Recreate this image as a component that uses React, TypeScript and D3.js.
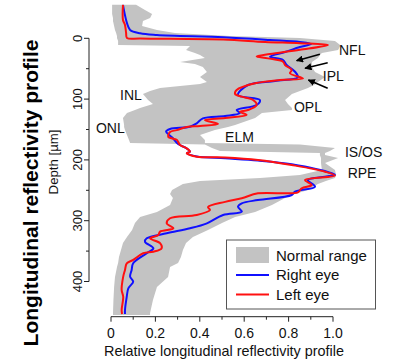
import * as d3 from 'd3'
import { useEffect, useRef } from 'react'

// depth in µm, value = relative longitudinal reflectivity
const bandDepth = [-55, -46.6, -40, -33.4, -28.5, -20.2, -13.7, -8.7, -3.8, -0.5, 4.4, 11, 12.7, 19.2, 24.2, 27.5, 32.4, 39, 42.3, 47.2, 55.4, 63.7, 71.9, 75.2, 81.7, 86.7, 91.6, 101.5, 108.1, 114.6, 117.9, 122.9, 131.1, 142.6, 145.9, 150.8, 159, 167.3, 172.2, 174.7, 180.4, 185.4, 188.7, 192, 196.9, 205.1, 216.6, 224.8, 229.8, 234.7, 239.6, 249.5, 256.1, 262.7, 274.2, 285.7, 293.9, 303.8, 315.3, 326.8, 336.7, 348.2, 359.7, 369.6, 376.1, 392.6, 409, 430.4, 451.8, 455]
const bandMin = [0.005, 0.005, 0.005, 0.009, 0.009, 0.014, 0.018, 0.023, 0.027, 0.027, 0.032, 0.032, 0.356, 0.338, 0.378, 0.401, 0.423, 0.311, 0.378, 0.414, 0.432, 0.401, 0.432, 0.401, 0.221, 0.176, 0.144, 0.167, 0.189, 0.131, 0.108, 0.072, 0.054, 0.059, 0.059, 0.063, 0.072, 0.081, 0.086, 0.423, 0.455, 0.491, 0.941, 0.941, 0.946, 0.946, 0.95, 0.851, 0.671, 0.401, 0.324, 0.275, 0.266, 0.279, 0.266, 0.207, 0.131, 0.108, 0.095, 0.072, 0.054, 0.045, 0.036, 0.032, 0.027, 0.018, 0.014, 0.011, 0.009, 0.009]
const bandMax = [0.113, 0.153, 0.185, 0.176, 0.144, 0.14, 0.207, 0.288, 0.536, 0.851, 1.009, 1.032, 1.032, 1.023, 0.95, 0.941, 0.932, 0.905, 0.905, 0.905, 0.919, 0.964, 0.932, 0.923, 0.887, 0.851, 0.815, 0.784, 0.797, 0.815, 0.815, 0.68, 0.649, 0.559, 0.527, 0.468, 0.401, 0.423, 0.423, 0.851, 1.009, 0.986, 0.964, 0.964, 1.023, 0.964, 1.009, 1.014, 1.009, 0.968, 0.932, 0.887, 0.829, 0.784, 0.725, 0.649, 0.559, 0.5, 0.437, 0.369, 0.338, 0.324, 0.315, 0.302, 0.266, 0.257, 0.207, 0.189, 0.176, 0.176]

const rightDepth = [-55, -38, -25, -13.7, -8.2, -5.4, -1.6, 2.8, 6.1, 9.4, 14.3, 22.5, 30.3, 35.7, 44, 55, 64.1, 70.2, 76.8, 93.3, 101.5, 109.7, 118, 122.9, 127.8, 131.6, 139.8, 145.4, 149.2, 153.6, 160.2, 164.5, 173.9, 180.4, 186.5, 189.1, 194.4, 197.4, 201, 207.2, 222, 224.8, 233, 244, 252.3, 257.7, 266, 271.4, 277, 285.2, 290.6, 304.3, 312.5, 320.7, 329, 334.5, 345.4, 353.6, 370, 381, 392, 400.3, 411.2, 425, 447, 453.5]
const rightEye = [0.054, 0.063, 0.072, 0.086, 0.131, 0.207, 0.505, 0.716, 0.851, 0.901, 0.851, 0.784, 0.716, 0.775, 0.791, 0.829, 0.842, 0.739, 0.617, 0.572, 0.671, 0.656, 0.566, 0.581, 0.514, 0.414, 0.386, 0.356, 0.266, 0.248, 0.266, 0.279, 0.302, 0.338, 0.356, 0.342, 0.387, 0.514, 0.662, 0.814, 0.994, 1.009, 0.887, 0.919, 0.829, 0.814, 0.662, 0.589, 0.572, 0.589, 0.505, 0.432, 0.356, 0.251, 0.161, 0.153, 0.191, 0.161, 0.1, 0.093, 0.086, 0.1, 0.078, 0.071, 0.063, 0.063]

const leftDepth = [-55, -30, -22, -9, -0.5, 0.3, 2, 6, 8, 11, 19, 26, 30, 33, 38.5, 44, 52, 57.5, 66, 68.6, 74, 85, 91.6, 96, 101.5, 109.7, 118, 120.7, 126, 131, 134.4, 141, 144.2, 146, 151, 154, 162, 167, 175.5, 181, 186.5, 189, 194.7, 196, 200, 208.4, 219.4, 226, 233, 241.3, 246.7, 253.3, 255, 263, 269, 277.5, 282.4, 290.6, 296, 304.3, 312.5, 318, 323.5, 329, 337, 345.4, 351, 353.6, 364.6, 370, 381, 392, 414, 425, 447, 453.5]
const leftEye = [0.054, 0.054, 0.063, 0.068, 0.072, 0.131, 0.505, 0.694, 0.851, 0.977, 0.851, 0.716, 0.656, 0.707, 0.775, 0.784, 0.814, 0.806, 0.865, 0.761, 0.649, 0.566, 0.559, 0.589, 0.64, 0.656, 0.617, 0.581, 0.611, 0.514, 0.423, 0.482, 0.401, 0.341, 0.296, 0.266, 0.258, 0.296, 0.311, 0.341, 0.356, 0.341, 0.386, 0.514, 0.662, 0.814, 0.964, 1.009, 0.874, 0.904, 0.859, 0.842, 0.662, 0.589, 0.514, 0.437, 0.446, 0.386, 0.266, 0.251, 0.281, 0.221, 0.213, 0.176, 0.221, 0.228, 0.191, 0.145, 0.1, 0.071, 0.063, 0.055, 0.048, 0.055, 0.048, 0.05]

const depthTicks = [0, 100, 200, 300, 400]
const depthMinor = [50, 150, 250, 350]
const valueTicks = [0, 0.2, 0.4, 0.6, 0.8, 1.0]
const valueMinor = [0.1, 0.3, 0.5, 0.7, 0.9]

const layerNames = ['NFL', 'IPL', 'OPL', 'ELM', 'IS/OS', 'RPE', 'INL', 'ONL']
const layerValue = [1.027, 0.954, 0.824, 0.514, 1.054, 1.066, 0.041, -0.068]
const layerDepth = [19.2, 62.5, 113.5, 161.8, 186.5, 222, 93.3, 148]

// arrows: [fromValue, fromDepth, toValue, toDepth]
const arrows = [
    [0.941, 26.3, 0.836, 36.8],
    [0.976, 40.1, 0.874, 49.3],
    [0.976, 82.2, 0.889, 68.6],
]

const FONT = 'Arial, "Liberation Sans", Helvetica, sans-serif'

const drawChart = (el: SVGSVGElement) => {
    const svg = d3.select(el)
    svg.selectAll('*').remove()

    const x = d3.scaleLinear().domain([0, 1]).range([111, 333])
    const y = d3.scaleLinear().domain([0, 400]).range([38.3, 281.5])
    const axisX = 89
    const axisY = 316.7

    svg.append('defs').append('marker')
        .attr('id', 'arrowhead')
        .attr('viewBox', '0 0 10 10')
        .attr('refX', 9).attr('refY', 5)
        .attr('markerWidth', 4.5).attr('markerHeight', 4.5)
        .attr('orient', 'auto')
        .append('path').attr('d', 'M0,0 L10,5 L0,10 z').attr('fill', '#000')

    // normal range band
    const band = bandDepth.map((d, i) => [d, bandMin[i], bandMax[i]] as [number, number, number])
    const area = d3.area<[number, number, number]>()
        .y(d => y(d[0]))
        .x0(d => x(d[1]))
        .x1(d => x(d[2]))
    svg.append('path').datum(band).attr('fill', '#c3c3c3').attr('d', area)

    const line = d3.line<[number, number]>()
        .x(d => x(d[1]))
        .y(d => y(d[0]))
        .curve(d3.curveCatmullRom.alpha(0.5))

    svg.append('path')
        .datum(rightDepth.map((d, i) => [d, rightEye[i]] as [number, number]))
        .attr('fill', 'none').attr('stroke', '#1010ff').attr('stroke-width', 2)
        .attr('d', line)
    svg.append('path')
        .datum(leftDepth.map((d, i) => [d, leftEye[i]] as [number, number]))
        .attr('fill', 'none').attr('stroke', '#ff1010').attr('stroke-width', 2)
        .attr('d', line)

    // y axis
    const ya = svg.append('g').attr('transform', `translate(${axisX},0)`)
    ya.append('line').attr('y1', y(0)).attr('y2', y(400)).attr('stroke', '#222')
    ya.selectAll('.maj').data(depthTicks).enter().append('line')
        .attr('x1', -5).attr('x2', 0).attr('y1', d => y(d)).attr('y2', d => y(d)).attr('stroke', '#222')
    ya.selectAll('.min').data(depthMinor).enter().append('line')
        .attr('x1', -3).attr('x2', 0).attr('y1', d => y(d)).attr('y2', d => y(d)).attr('stroke', '#222')
    ya.selectAll('text').data(depthTicks).enter().append('text')
        .attr('transform', d => `translate(-7,${y(d)}) rotate(-90)`)
        .attr('text-anchor', 'middle')
        .attr('font-family', FONT).attr('font-size', 13).attr('fill', '#111')
        .text(d => d)

    // x axis
    const xa = svg.append('g').attr('transform', `translate(0,${axisY})`)
    xa.append('line').attr('x1', x(0)).attr('x2', x(1)).attr('stroke', '#222')
    xa.selectAll('.maj').data(valueTicks).enter().append('line')
        .attr('x1', d => x(d)).attr('x2', d => x(d)).attr('y1', 0).attr('y2', 5).attr('stroke', '#222')
    xa.selectAll('.min').data(valueMinor).enter().append('line')
        .attr('x1', d => x(d)).attr('x2', d => x(d)).attr('y1', 0).attr('y2', 3).attr('stroke', '#222')
    xa.selectAll('text').data(valueTicks).enter().append('text')
        .attr('x', d => x(d)).attr('y', 21.5)
        .attr('text-anchor', 'middle')
        .attr('font-family', FONT).attr('font-size', 14).attr('fill', '#111')
        .text(d => d === 0 ? '0' : d.toFixed(1))

    svg.append('text')
        .attr('x', 224).attr('y', 356)
        .attr('text-anchor', 'middle')
        .attr('font-family', FONT).attr('font-size', 14.4).attr('fill', '#111')
        .text('Relative longitudinal reflectivity profile')

    svg.append('text')
        .attr('transform', 'translate(58,162) rotate(-90)')
        .attr('text-anchor', 'middle')
        .attr('font-family', FONT).attr('font-size', 13.2).attr('fill', '#111')
        .text('Depth [µm]')

    svg.append('text')
        .attr('transform', 'translate(38,193) rotate(-90)')
        .attr('text-anchor', 'middle')
        .attr('font-family', FONT).attr('font-size', 21).attr('font-weight', 'bold').attr('fill', '#000')
        .text('Longitudinal reflectivity profile')

    // layer labels
    svg.selectAll('.layer').data(layerNames).enter().append('text')
        .attr('x', (_, i) => x(layerValue[i]))
        .attr('y', (_, i) => y(layerDepth[i]))
        .attr('dy', '0.36em')
        .attr('font-family', FONT).attr('font-size', 14).attr('fill', '#111')
        .text(d => d)

    svg.selectAll('.arrow').data(arrows).enter().append('line')
        .attr('x1', d => x(d[0])).attr('y1', d => y(d[1]))
        .attr('x2', d => x(d[2])).attr('y2', d => y(d[3]))
        .attr('stroke', '#000').attr('stroke-width', 1.6)
        .attr('marker-end', 'url(#arrowhead)')

    // legend
    const lg = svg.append('g')
    lg.append('rect').attr('x', 226.5).attr('y', 240).attr('width', 149).attr('height', 69)
        .attr('fill', '#fff').attr('stroke', '#555').attr('stroke-width', 1)
    lg.append('rect').attr('x', 236).attr('y', 247).attr('width', 33).attr('height', 16).attr('fill', '#c3c3c3')
    lg.append('line').attr('x1', 236).attr('x2', 269).attr('y1', 275).attr('y2', 275)
        .attr('stroke', '#1010ff').attr('stroke-width', 2)
    lg.append('line').attr('x1', 236).attr('x2', 269).attr('y1', 294.5).attr('y2', 294.5)
        .attr('stroke', '#ff1010').attr('stroke-width', 2)
    const legendText = ['Normal range', 'Right eye', 'Left eye']
    const legendY = [256, 275, 294.5]
    lg.selectAll('.lt').data(legendText).enter().append('text')
        .attr('x', 276).attr('y', (_, i) => legendY[i]).attr('dy', '0.36em')
        .attr('font-family', FONT).attr('font-size', 15).attr('fill', '#111')
        .text(d => d)
}

const App = () => {
    const ref = useRef<SVGSVGElement>(null)

    useEffect(() => {
        if (ref.current) drawChart(ref.current)
    }, [])

    return (
        <svg ref={ref} width={395} height={362}
            style={{ position: 'absolute', left: 0, top: 0, background: '#fff' }} />
    )
}

export default App
